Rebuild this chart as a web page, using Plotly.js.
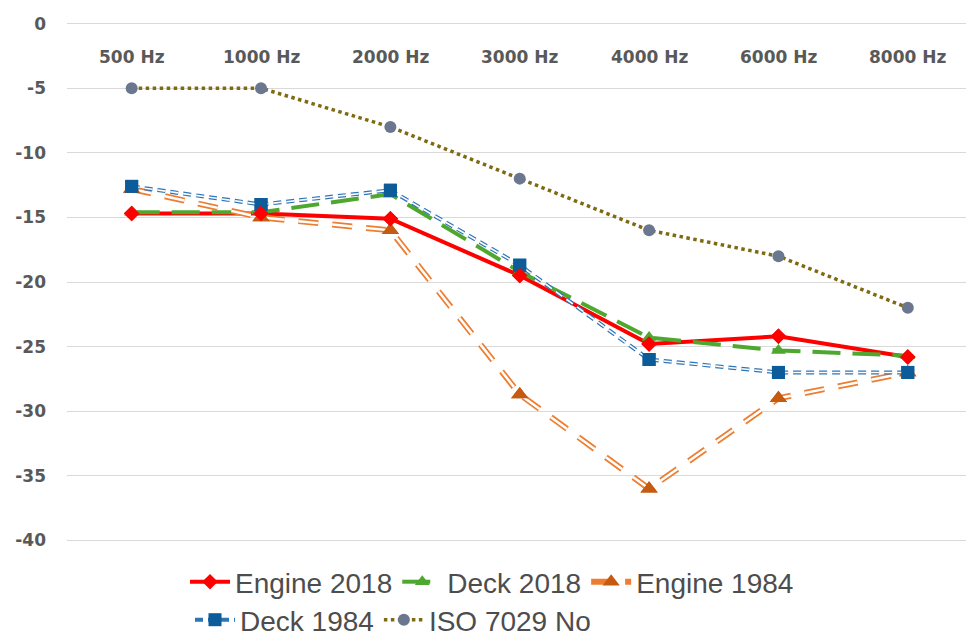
<!DOCTYPE html>
<html><head><meta charset="utf-8">
<script src="https://cdn.plot.ly/plotly-3.0.1.min.js"></script>
<style>html,body{margin:0;padding:0;background:#fff}#chart{width:966px;height:641px}</style>
</head><body><div id="chart"></div>
<script>
const categories = ["500 Hz","1000 Hz","2000 Hz","3000 Hz","4000 Hz","6000 Hz","8000 Hz"];
const engine2018 = [-14.7,-14.7,-15.1,-19.5,-24.8,-24.2,-25.8];
const deck2018   = [-14.6,-14.6,-13.2,-19.2,-24.3,-25.3,-25.7];
const engine1984 = [-12.8,-15.0,-16.0,-28.7,-36.0,-29.0,-27.0];
const deck1984   = [-12.6,-14.0,-12.9,-18.7,-26.0,-27.0,-27.0];
const iso7029    = [-5,-5,-8,-12,-16,-18,-22];
const yTicks = [0,-5,-10,-15,-20,-25,-30,-35,-40];
const yTickText = ["0","-5","-10","-15","-20","-25","-30","-35","-40"];
const categoryLabelLevel = -2.55;

const tickFont = {family:"DejaVu Sans, sans-serif", size:17, color:"#595959", weight:"bold"};

const traces = [
  {name:"Engine 2018", legend:"legend", x:categories, y:engine2018, mode:"lines+markers",
   line:{color:"#ff0000", width:4}, marker:{symbol:"diamond", size:12, color:"#ff0000"}},
  {name:"Deck 2018", legend:"legend", x:categories, y:deck2018, mode:"lines+markers",
   line:{color:"#4ea72e", width:4, dash:"28px,12px"}, marker:{symbol:"triangle-up", size:13, color:"#4ea72e"}},
  {name:"Engine 1984", legend:"legend", x:categories, y:engine1984, mode:"lines+markers",
   line:{color:"#ed7d31", width:6, dash:"20px,14px"}, marker:{symbol:"triangle-up", size:15, color:"#c55a11"}},
  {name:"Engine 1984", x:categories, y:engine1984, mode:"lines", showlegend:false, hoverinfo:"skip",
   line:{color:"#ffffff", width:2.5, dash:"20px,14px"}},
  {name:"Deck 1984", legend:"legend2", x:categories, y:deck1984, mode:"lines+markers",
   line:{color:"#2e75b6", width:4, dash:"8px,5px"}, marker:{symbol:"square", size:13, color:"#0b5c99"}},
  {name:"Deck 1984", x:categories, y:deck1984, mode:"lines", showlegend:false, hoverinfo:"skip",
   line:{color:"#ffffff", width:1.6, dash:"8px,5px"}},
  {name:"ISO 7029 No", legend:"legend2", x:categories, y:iso7029, mode:"lines+markers",
   line:{color:"#7f6a12", width:3.5, dash:"dot"}, marker:{symbol:"circle", size:12, color:"#6a778f"}}
];
traces.push(
  {x:categories, y:engine1984, mode:"markers", showlegend:false, hoverinfo:"skip", marker:{symbol:"triangle-up", size:15, color:"#c55a11"}},
  {x:categories, y:deck1984, mode:"markers", showlegend:false, hoverinfo:"skip", marker:{symbol:"square", size:13, color:"#0b5c99"}},
  {x:categories, y:engine2018, mode:"markers", showlegend:false, hoverinfo:"skip", marker:{symbol:"diamond", size:12, color:"#ff0000"}}
);

const annotations = categories.map(c => ({
  x:c, y:categoryLabelLevel, xref:"x", yref:"y", text:c, showarrow:false,
  xanchor:"center", yanchor:"middle", font:tickFont
}));

const legendFont = {size:28, color:"#4d4d4d", family:"Liberation Sans, Arial, sans-serif"};

const layout = {
  width:966, height:641,
  margin:{l:67, r:0, t:21, b:98},
  paper_bgcolor:"#ffffff", plot_bgcolor:"#ffffff",
  font:{family:"Liberation Sans, Arial, sans-serif", color:"#595959"},
  xaxis:{type:"category", range:[-0.5,6.45], showgrid:false, zeroline:false,
    showline:false, ticks:"", showticklabels:false},
  yaxis:{range:[-40.2,0.2], tickvals:yTicks, ticktext:yTickText, showgrid:true, gridcolor:"#d9d9d9", gridwidth:1,
    zeroline:false, showline:false, ticks:"", ticklabelstandoff:20, tickfont:tickFont},
  annotations:annotations,
  legend:{orientation:"h", xref:"container", yref:"container", x:185/966, xanchor:"left",
    y:1-582/641, yanchor:"middle", font:legendFont, itemwidth:40, bgcolor:"rgba(0,0,0,0)"},
  legend2:{orientation:"h", xref:"container", yref:"container", x:190/966, xanchor:"left",
    y:1-620/641, yanchor:"middle", font:legendFont, itemwidth:40, bgcolor:"rgba(0,0,0,0)"},
  showlegend:true
};
Plotly.newPlot("chart", traces, layout, {displayModeBar:false, staticPlot:true});
</script></body></html>
